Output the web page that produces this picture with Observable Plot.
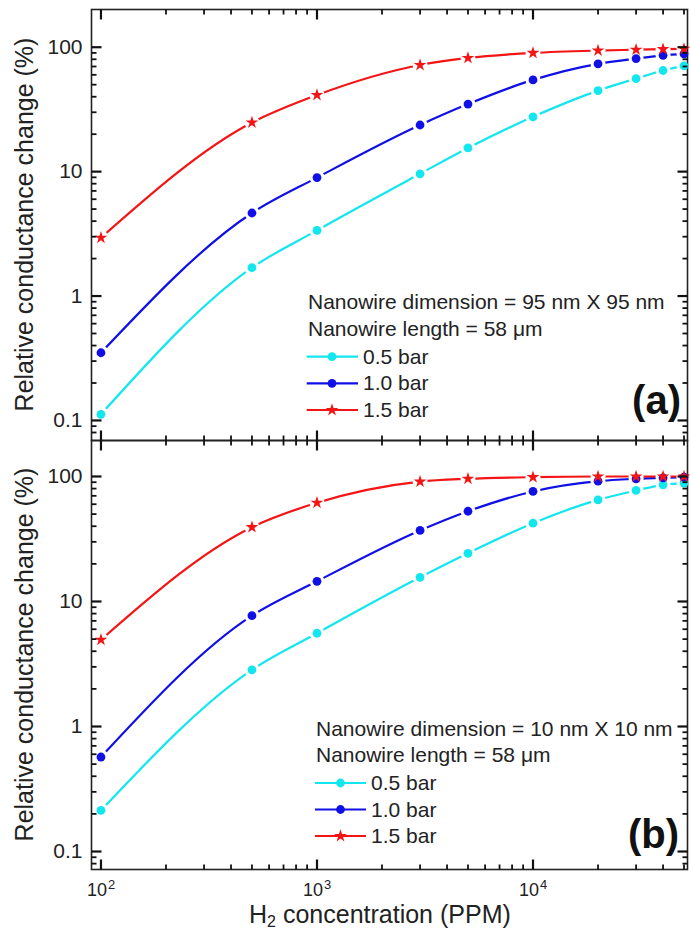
<!DOCTYPE html>
<html><head><meta charset="utf-8">
<script src="https://cdn.jsdelivr.net/npm/d3@7"></script>
<script src="https://cdn.jsdelivr.net/npm/@observablehq/plot@0.6"></script>
<style>
html,body{margin:0;padding:0;background:#fff;}
#wrap{position:relative;width:690px;height:931px;overflow:hidden;font-family:"Liberation Sans",Arial,sans-serif;}
#wrap svg{position:absolute;left:0;}
</style></head><body><div id="wrap"></div>
<script>
// ---- data ----
const concentration = [100, 500, 1000, 3000, 5000, 10000, 20000, 30000, 40000, 50000];
const pressures = ["0.5 bar", "1.0 bar", "1.5 bar"];
const a05 = [0.112, 1.69, 3.37, 9.6, 15.5, 27.6, 44.8, 56, 65, 70.8];
const a10 = [0.35, 4.65, 8.95, 23.7, 34.9, 54.6, 73.5, 81, 86, 88.5];
const a15 = [2.94, 24.8, 41.3, 72, 82, 90, 94, 95.5, 96.5, 97];
const b05 = [0.213, 2.84, 5.57, 15.6, 24.3, 42.3, 65, 77.3, 85.8, 88.5];
const b10 = [0.57, 7.7, 14.5, 37, 52.7, 75.9, 91.7, 95.8, 97.6, 98.7];
const b15 = [4.94, 39.3, 61.6, 91, 95.8, 98.8, 100, 100, 100, 100];
const xTickValues = [100, 1000, 10000];
const xTickBase = ["10", "10", "10"];
const xTickExponents = ["2", "3", "4"];
const xMinor = [200,300,400,500,600,700,800,900,2000,3000,4000,5000,6000,7000,8000,9000,20000,30000,40000,50000];
const yTickValues = [0.1, 1, 10, 100];
const yTickLabels = ["0.1", "1", "10", "100"];
const yMinor = [0.08,0.09,0.2,0.3,0.4,0.5,0.6,0.7,0.8,0.9,2,3,4,5,6,7,8,9,20,30,40,50,60,70,80,90];
const colors = ["#12e6ee", "#1010e6", "#f41414"];
const symbols = ["circle", "circle", "star"];
const yTitle = "Relative conductance change (%)";
const panelA = {series: [a05, a10, a15], dimension: "Nanowire dimension = 95 nm X 95 nm", label: "(a)"};
const panelB = {series: [b05, b10, b15], dimension: "Nanowire dimension = 10 nm X 10 nm", label: "(b)"};
const lengthText = "Nanowire length = 58 μm";

const FONT = '"Liberation Sans", Arial, sans-serif';
const AX = "#222222";
const TK = "#111111";
const W = 690, ML = 91, MR = 3;
const xDomain = [90.4, 51900];
const DOT_R = 4.4, STAR_R = 4.0;
const panels = [];

function panel(p, yDomain, top, height, mt, mb, showX) {
  const rows = [];
  p.series.forEach((vals, k) => vals.forEach((v, i) => rows.push({x: concentration[i], y: v, s: pressures[k]})));
  const marks = [];
  pressures.forEach((name, k) => {
    const d = rows.filter(r => r.s === name);
    marks.push(Plot.line(d, {x: "x", y: "y", stroke: colors[k], strokeWidth: 2.2, curve: "monotone-x"}));
    marks.push(Plot.dot(d, {x: "x", y: "y", r: 7.5, fill: "white", stroke: "none"}));
  });
  marks.push(Plot.frame({stroke: AX, strokeWidth: 1.6}));
  pressures.forEach((name, k) => {
    const d = rows.filter(r => r.s === name);
    marks.push(Plot.dot(d, {x: "x", y: "y", r: symbols[k] === "star" ? STAR_R : DOT_R, fill: colors[k], stroke: "none", symbol: symbols[k]}));
  });
  marks.push(Plot.axisY({ticks: yTickValues, tickFormat: d => yTickLabels[yTickValues.indexOf(d)], tickSize: 0, tickPadding: 9, fontSize: 21, label: null, anchor: "left", fill: AX}));
  if (showX) {
    marks.push(Plot.text(xTickValues, {x: d => d, text: (d, i) => xTickBase[i], frameAnchor: "bottom", lineAnchor: "top", dy: 14, dx: -4, fontSize: 18, fill: AX}));
    marks.push(Plot.text(xTickValues, {x: d => d, text: (d, i) => xTickExponents[i], frameAnchor: "bottom", lineAnchor: "top", textAnchor: "start", dy: 10, dx: 7, fontSize: 13, fill: AX}));
  }
  const svg = Plot.plot({
    width: W, height, marginLeft: ML, marginRight: MR, marginTop: mt, marginBottom: mb,
    x: {type: "log", domain: xDomain, axis: null},
    y: {type: "log", domain: yDomain, axis: null},
    style: {fontFamily: FONT, fontSize: "21px", color: AX, background: "none", overflow: "visible"},
    marks
  });
  svg.style.top = top + "px";
  document.getElementById("wrap").appendChild(svg);
  panels.push({svg, top, height, mt, mb, yDomain});
}

panel(panelA, [0.069, 201], 0, 442, 9, 2, false);
panel(panelB, [0.0718, 194], 438, 493, 2, 62, true);

// ---- overlay: ticks (placed with Plot's own scales), titles, legends, panel letters ----
const ov = d3.select("#wrap").append("svg").attr("width", W).attr("height", 931)
  .style("top", "0px").style("font-family", FONT).style("pointer-events", "none");

function scalesOf(pan) {
  try {
    const X = pan.svg.scale("x"), Y = pan.svg.scale("y");
    if (X && Y && typeof X.apply === "function" && typeof Y.apply === "function")
      return {fx: v => X.apply(v), fy: v => Y.apply(v), xr: X.range, yr: Y.range};
  } catch (e) {}
  const X = d3.scaleLog(xDomain, [ML, W - MR]), Y = d3.scaleLog(pan.yDomain, [pan.height - pan.mb, pan.mt]);
  return {fx: X, fy: Y, xr: X.range(), yr: Y.range()};
}

panels.forEach(pan => {
  const {fx, fy, xr, yr} = scalesOf(pan);
  const L = Math.min(...xr), R = Math.max(...xr);
  const T = Math.min(...yr) + pan.top, B = Math.max(...yr) + pan.top;
  const g = ov.append("g");
  const seg = (x1, y1, x2, y2, w) => g.append("line")
    .attr("x1", x1 + 0.5).attr("y1", y1 + 0.5).attr("x2", x2 + 0.5).attr("y2", y2 + 0.5)
    .attr("stroke", TK).attr("stroke-width", w).attr("stroke-linecap", "butt");
  [[yMinor, 5, 1.8], [yTickValues, 10, 2.2]].forEach(([vals, len, w]) => vals.forEach(v => {
    const y = fy(v) + pan.top;
    seg(L, y, L + len, y, w); seg(R - len, y, R, y, w);
  }));
  [[xMinor, 5, 1.8], [xTickValues, 10, 2.2]].forEach(([vals, len, w]) => vals.forEach(v => {
    const x = fx(v);
    seg(x, T, x, T + len, w); seg(x, B - len, x, B, w);
  }));
});

[224.5, 654.5].forEach(cy => {
  ov.append("text").attr("transform", `translate(33,${cy}) rotate(-90)`)
    .attr("text-anchor", "middle").attr("font-size", 25).attr("fill", AX).text(yTitle);
});

const xt = ov.append("text").attr("x", 249).attr("y", 923).attr("font-size", 25).attr("fill", AX);
xt.append("tspan").text("H");
xt.append("tspan").attr("font-size", 16).attr("dy", 4).text("2");
xt.append("tspan").attr("dy", -4).text(" concentration (PPM)");

function legend(p, tx, b1, b2, sy, lx0, lx1, mx, ttx, lbx, lby) {
  ov.append("text").attr("x", tx).attr("y", b1).attr("font-size", 21).attr("fill", AX).text(p.dimension);
  ov.append("text").attr("x", tx).attr("y", b2).attr("font-size", 21).attr("fill", AX).text(lengthText);
  pressures.forEach((name, k) => {
    const y = sy[k];
    ov.append("line").attr("x1", lx0).attr("x2", lx1).attr("y1", y).attr("y2", y)
      .attr("stroke", colors[k]).attr("stroke-width", 2.2);
    const sym = symbols[k] === "star" ? d3.symbol(d3.symbolStar, Math.PI * STAR_R * STAR_R) : d3.symbol(d3.symbolCircle, Math.PI * DOT_R * DOT_R);
    ov.append("path").attr("d", sym()).attr("transform", `translate(${mx},${y})`).attr("fill", colors[k]);
    ov.append("text").attr("x", ttx).attr("y", y + 7).attr("font-size", 21).attr("fill", AX).text(name);
  });
  ov.append("text").attr("x", lbx).attr("y", lby).attr("text-anchor", "end").attr("font-size", 40)
    .attr("font-weight", "bold").attr("fill", "#111").text(p.label);
}
legend(panelA, 308, 309, 336, [356.7, 383.3, 410], 306.7, 358, 332, 363, 681, 414);
legend(panelB, 316, 736, 762, [783, 809.5, 836], 315, 366, 340.5, 371, 679, 848);
</script></body></html>
